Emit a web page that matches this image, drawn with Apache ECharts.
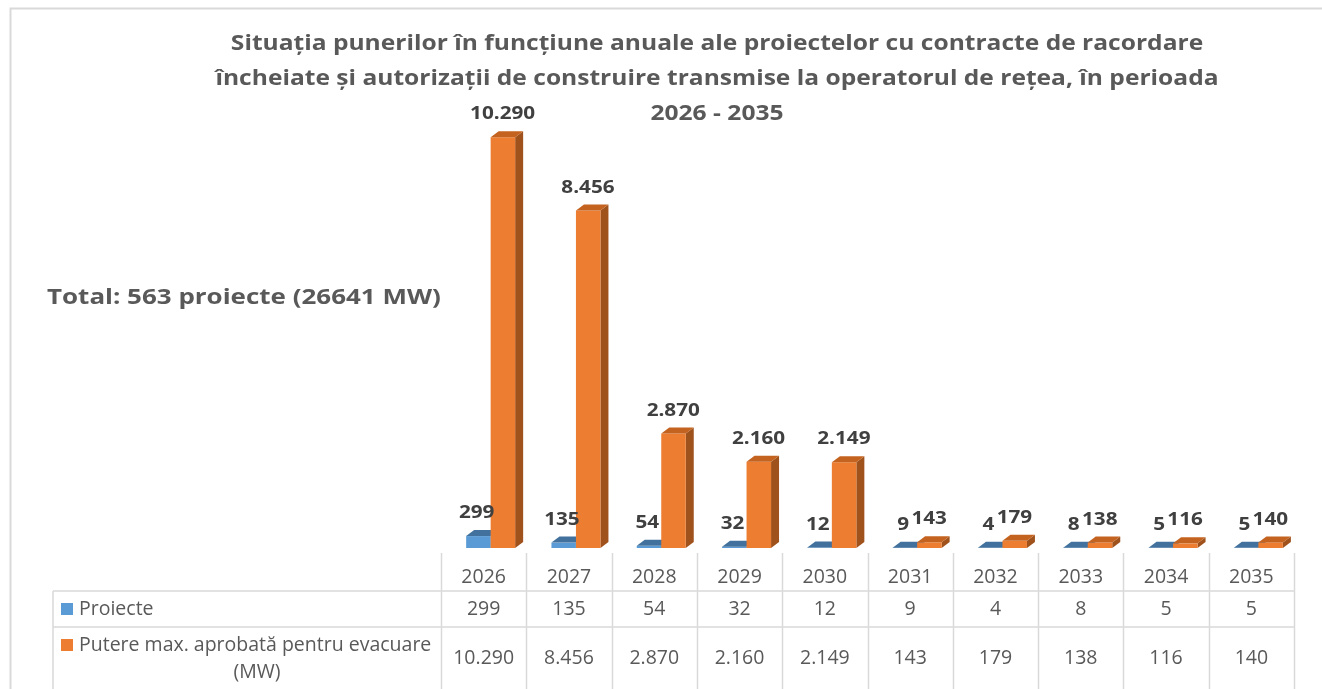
<!DOCTYPE html>
<html>
<head>
<meta charset="utf-8">
<script src="https://cdn.jsdelivr.net/npm/echarts@6/dist/echarts.min.js"></script>
<style>
  html, body { margin: 0; padding: 0; background: #fff; }
  #chart { width: 1322px; height: 689px; }
</style>
</head>
<body>
<div id="chart"></div>
<script>
// data
const years = ['2026', '2027', '2028', '2029', '2030', '2031', '2032', '2033', '2034', '2035'];
const proiecte = [299, 135, 54, 32, 12, 9, 4, 8, 5, 5];
const putere = [10290, 8456, 2870, 2160, 2149, 143, 179, 138, 116, 140];
const seriesNames = ['Proiecte', 'Putere max. aprobată pentru evacuare (MW)'];

const FONT = '"Open Sans", "Noto Sans", sans-serif';
const GRAY = '#595959';
const LINE = '#d9d9d9';

// grid / table geometry
const GRID_L = 441, GRID_R = 1294, BASE_Y = 548;
const COL_W = (GRID_R - GRID_L) / years.length;
const BAR_W = 24.5, DEPTH_X = 8, DEPTH_Y = 6;

// 1.234 style thousands separator
function fmt(v) {
  return String(v).replace(/\B(?=(\d{3})+(?!\d))/g, '.');
}

// draws one 3D-looking bar: front, top and side faces + label
function bar3D(offset, labelDx, colors) {
  return function (params, api) {
    const idx = api.value(0);
    const val = api.value(1);
    const base = api.coord([idx, 0]);
    const top = api.coord([idx, val]);
    const x0 = base[0] + offset, x1 = x0 + BAR_W;
    const yb = base[1], yt = top[1];
    return {
      type: 'group',
      children: [
        {
          type: 'polygon',
          shape: { points: [[x1, yt], [x1 + DEPTH_X, yt - DEPTH_Y], [x1 + DEPTH_X, yb - DEPTH_Y], [x1, yb]] },
          style: { fill: colors.side }
        },
        {
          type: 'rect',
          shape: { x: x0, y: yt, width: BAR_W, height: yb - yt },
          style: { fill: colors.front }
        },
        {
          type: 'polygon',
          shape: { points: [[x0, yt], [x1, yt], [x1 + DEPTH_X, yt - DEPTH_Y], [x0 + DEPTH_X, yt - DEPTH_Y]] },
          style: { fill: colors.top }
        },
        {
          type: 'text',
          z2: 10,
          x: base[0] + labelDx, y: yt - 23, scaleX: 1.15,
          style: {
            x: 0, y: 0,
            text: fmt(val),
            align: 'center', verticalAlign: 'middle',
            fontFamily: FONT, fontWeight: 'bold', fontSize: 18, fill: '#404040'
          }
        }
      ]
    };
  };
}

const blueColors = { front: '#5b9bd5', top: '#41719c', side: '#3b6894' };
const orangeColors = { front: '#ed7d31', top: '#c4631f', side: '#a0521c' };

// table lines
const tableLines = [];
tableLines.push({ type: 'line', shape: { x1: 53, y1: 591, x2: GRID_R, y2: 591 } });
tableLines.push({ type: 'line', shape: { x1: 53, y1: 627, x2: GRID_R, y2: 627 } });
tableLines.push({ type: 'line', shape: { x1: 53, y1: 591, x2: 53, y2: 689 } });
for (let k = 0; k <= years.length; k++) {
  const x = Math.round(GRID_L + k * COL_W) + 0.5;
  tableLines.push({ type: 'line', shape: { x1: x, y1: 553, x2: x, y2: 689 } });
}
tableLines.forEach(l => { l.style = { stroke: LINE, lineWidth: 1.5 }; l.silent = true; });

const tableAxis = (offset, labels) => ({
  type: 'category',
  position: 'bottom',
  offset: offset,
  data: labels,
  axisLine: { show: false },
  axisTick: { show: false },
  axisLabel: { margin: 19, fontFamily: FONT, fontSize: 19.5, color: GRAY, interval: 0 }
});

const chart = echarts.init(document.getElementById('chart'));
chart.setOption({
  animation: false,
  grid: { left: GRID_L, right: 1322 - GRID_R, top: 109, bottom: 689 - BASE_Y },
  xAxis: [
    tableAxis(0, years),
    tableAxis(32, proiecte.map(fmt)),
    tableAxis(81, putere.map(fmt))
  ],
  yAxis: { type: 'value', min: 0, max: 11000, show: false, splitLine: { show: false } },
  series: [
    {
      name: seriesNames[0],
      type: 'custom',
      renderItem: bar3D(-17.5, -7, blueColors),
      data: proiecte.map((v, i) => [i, v]),
      z: 2
    },
    {
      name: seriesNames[1],
      type: 'custom',
      renderItem: bar3D(7, 19, orangeColors),
      data: putere.map((v, i) => [i, v]),
      z: 2
    }
  ],
  graphic: [
    // chart border
    {
      type: 'polyline', silent: true,
      shape: { points: [[10.5, 689], [10.5, 8.5], [1322, 8.5]] },
      style: { stroke: LINE, lineWidth: 2, fill: null }
    },
    ...tableLines,
    {
      type: 'text',
      x: 717, y: 27, scaleX: 1.17,
      style: {
        x: 0, y: 0,
        text: 'Situația punerilor în funcțiune anuale ale proiectelor cu contracte de racordare\n' +
              'încheiate și autorizații de construire transmise la operatorul de rețea, în perioada\n' +
              '2026 - 2035',
        align: 'center', verticalAlign: 'top', lineHeight: 35,
        fontFamily: FONT, fontWeight: 'bold', fontSize: 21, fill: GRAY
      }
    },
    {
      type: 'text',
      x: 47, y: 298, scaleX: 1.18,
      style: {
        x: 0, y: 0, text: 'Total: 563 proiecte (26641 MW)',
        verticalAlign: 'middle',
        fontFamily: FONT, fontWeight: 'bold', fontSize: 22, fill: GRAY
      }
    },
    // legend keys in the table
    { type: 'rect', shape: { x: 61, y: 603, width: 12, height: 12 }, style: { fill: '#5b9bd5' } },
    { type: 'rect', shape: { x: 61, y: 639, width: 12, height: 12 }, style: { fill: '#ed7d31' } },
    {
      type: 'text',
      style: { x: 79, y: 609, text: seriesNames[0], verticalAlign: 'middle', fontFamily: FONT, fontSize: 19.5, fill: GRAY }
    },
    {
      type: 'text',
      style: { x: 79, y: 645, text: 'Putere max. aprobată pentru evacuare', verticalAlign: 'middle', fontFamily: FONT, fontSize: 19.5, fill: GRAY }
    },
    {
      type: 'text',
      style: { x: 257, y: 672, text: '(MW)', align: 'center', verticalAlign: 'middle', fontFamily: FONT, fontSize: 19.5, fill: GRAY }
    }
  ]
});
</script>
</body>
</html>
